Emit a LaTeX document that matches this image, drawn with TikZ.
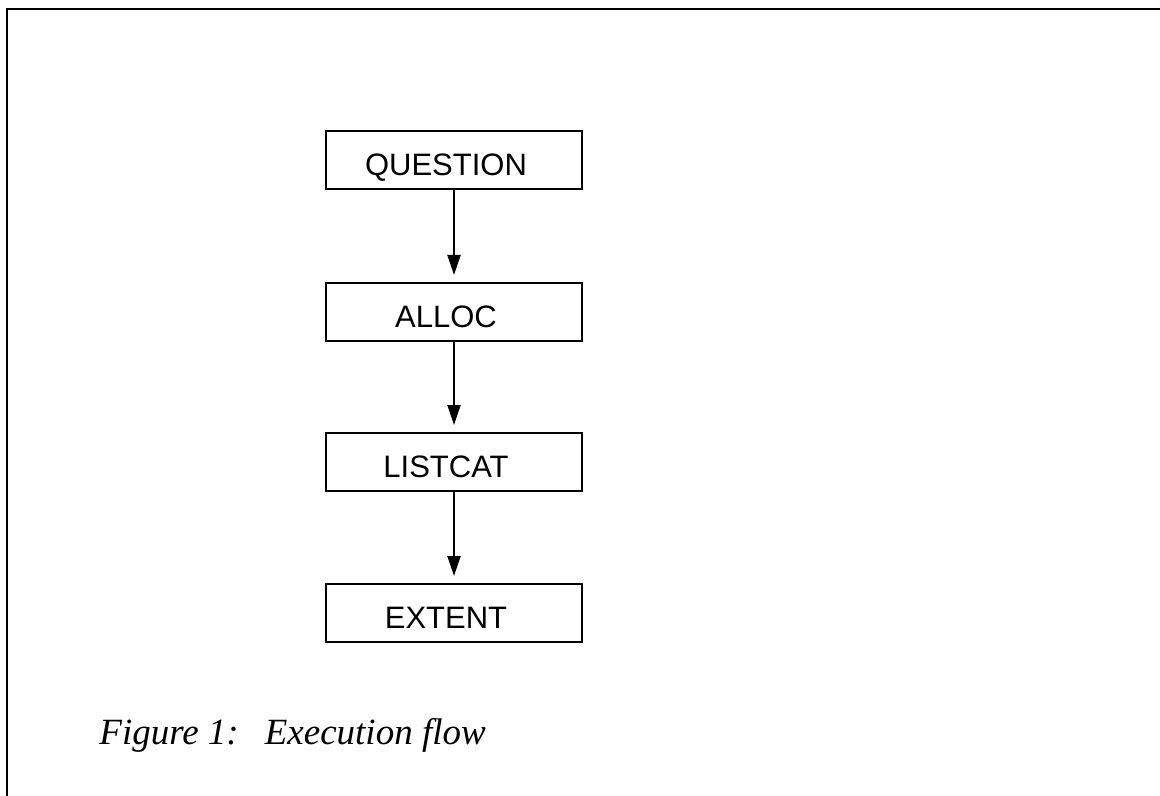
\documentclass[tikz,border=0pt]{standalone}
\usepackage{fontspec}
\setmainfont{Liberation Serif}
\newfontfamily\boxfont{Liberation Sans}
\usetikzlibrary{arrows.meta}

\begin{document}
\begin{tikzpicture}[x=0.5pt,y=-0.5pt,
  stepbox/.style={draw,line width=1pt,minimum width=128pt,minimum height=29pt,inner sep=0pt,
    text height=15.1pt,text depth=0pt,execute at end node={\kern8pt},
    font=\boxfont\fontsize{15.5pt}{18pt}\selectfont},
  flow/.style={line width=1pt,-{Triangle[length=10pt,width=6.5pt]},shorten >=3.5pt}]
\useasboundingbox (0,0) rectangle (1160,796);
\draw[line width=1pt] (1160,9) -- (7,9) -- (7,796);
\node[stepbox] (question) at (454,160) {QUESTION};
\node[stepbox] (alloc) at (454,312) {ALLOC};
\node[stepbox] (listcat) at (454,462) {LISTCAT};
\node[stepbox] (extent) at (454,613) {EXTENT};
\draw[flow] (question) -- (alloc);
\draw[flow] (alloc) -- (listcat);
\draw[flow] (listcat) -- (extent);
\node[anchor=base west,inner sep=0pt,font=\itshape\fontsize{18.5pt}{21pt}\selectfont] (caption) at (99,744) {Figure 1:\hspace{13pt}Execution flow};
\end{tikzpicture}
\end{document}
